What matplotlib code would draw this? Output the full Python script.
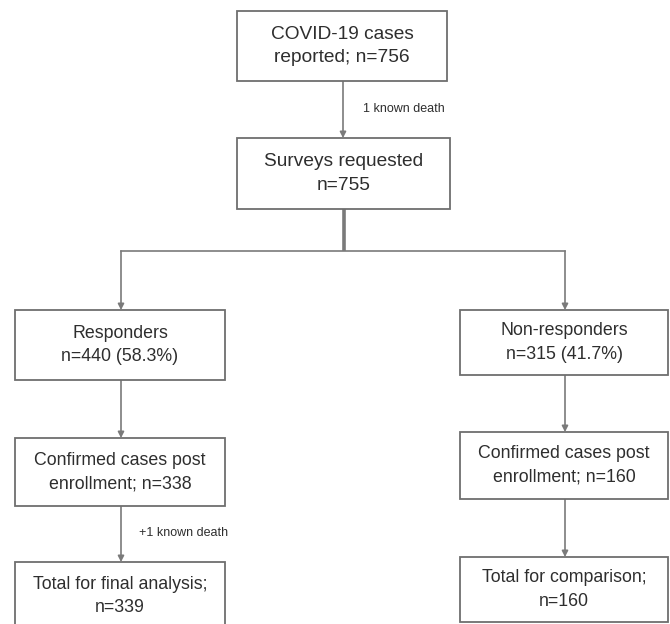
import matplotlib
matplotlib.use("Agg")
import matplotlib.pyplot as plt
from matplotlib.patches import Rectangle

plt.rcParams['font.family'] = ['Liberation Sans', 'DejaVu Sans']

# ---- data (texts) ----
top_labels = ["COVID-19 cases\nreported; n=756", "Surveys requested\nn=755"]
left_labels = ["Responders\nn=440 (58.3%)", "Confirmed cases post\nenrollment; n=338",
               "Total for final analysis;\nn=339"]
right_labels = ["Non-responders\nn=315 (41.7%)", "Confirmed cases post\nenrollment; n=160",
                "Total for comparison;\nn=160"]
edge_notes = ["1 known death", "+1 known death"]

# ---- layout (pixel coordinates: x0, x1, y0, y1) ----
top_boxes = [(237, 447, 11, 81), (237, 450, 138, 209)]
left_boxes = [(15, 225, 310, 380), (15, 225, 438, 506), (15, 225, 562, 634)]
right_boxes = [(460, 668, 310, 375), (460, 668, 432, 499), (460, 668, 557, 622)]

edge_col = "#6e6e6e"
line_col = "#7a7a7a"
text_col = "#2e2e2e"

fig = plt.figure(figsize=(6.7, 6.24), dpi=100)
ax = fig.add_axes([0, 0, 1, 1])
ax.set_xlim(0, 670)
ax.set_ylim(624, 0)
ax.axis("off")

def box(b, text, fs):
    x0, x1, y0, y1 = b
    ax.add_patch(Rectangle((x0, y0), x1 - x0, y1 - y0, fill=True, facecolor="white",
                           edgecolor=edge_col, lw=1.3, zorder=2))
    yc = (y0 + y1) / 2 if y1 <= 624 else y0 + 34
    ax.text((x0 + x1) / 2, yc, text, ha="center", va="center", fontsize=fs,
            color=text_col, linespacing=1.5, zorder=3)

def arrow(x, y0, y1, lw=1.2):
    ax.annotate("", xy=(x, y1), xytext=(x, y0),
                arrowprops=dict(arrowstyle="-|>,head_length=0.35,head_width=0.18",
                                color=line_col, lw=lw, shrinkA=0, shrinkB=0), zorder=1)

for b, t in zip(top_boxes, top_labels):
    box(b, t, 13.8)
for b, t in zip(left_boxes, left_labels):
    box(b, t, 12.8)
for b, t in zip(right_boxes, right_labels):
    box(b, t, 12.8)

# top arrow
arrow(343, top_boxes[0][3], top_boxes[1][2])
ax.text(363, 109, edge_notes[0], fontsize=9, color=text_col, va="center")

# branching
ybr = 251
ax.plot([344, 344], [top_boxes[1][3], ybr], color=line_col, lw=2.6, zorder=1,
        solid_capstyle="butt")
ax.plot([121, 565], [ybr, ybr], color=line_col, lw=1.2, zorder=1)
arrow(121, ybr, left_boxes[0][2])
arrow(565, ybr, right_boxes[0][2])

# left chain
arrow(121, left_boxes[0][3], left_boxes[1][2])
arrow(121, left_boxes[1][3], left_boxes[2][2])
ax.text(139, 533, edge_notes[1], fontsize=9, color=text_col, va="center")

# right chain
arrow(565, right_boxes[0][3], right_boxes[1][2])
arrow(565, right_boxes[1][3], right_boxes[2][2])

fig.savefig("out.png", dpi=100, facecolor="white")
